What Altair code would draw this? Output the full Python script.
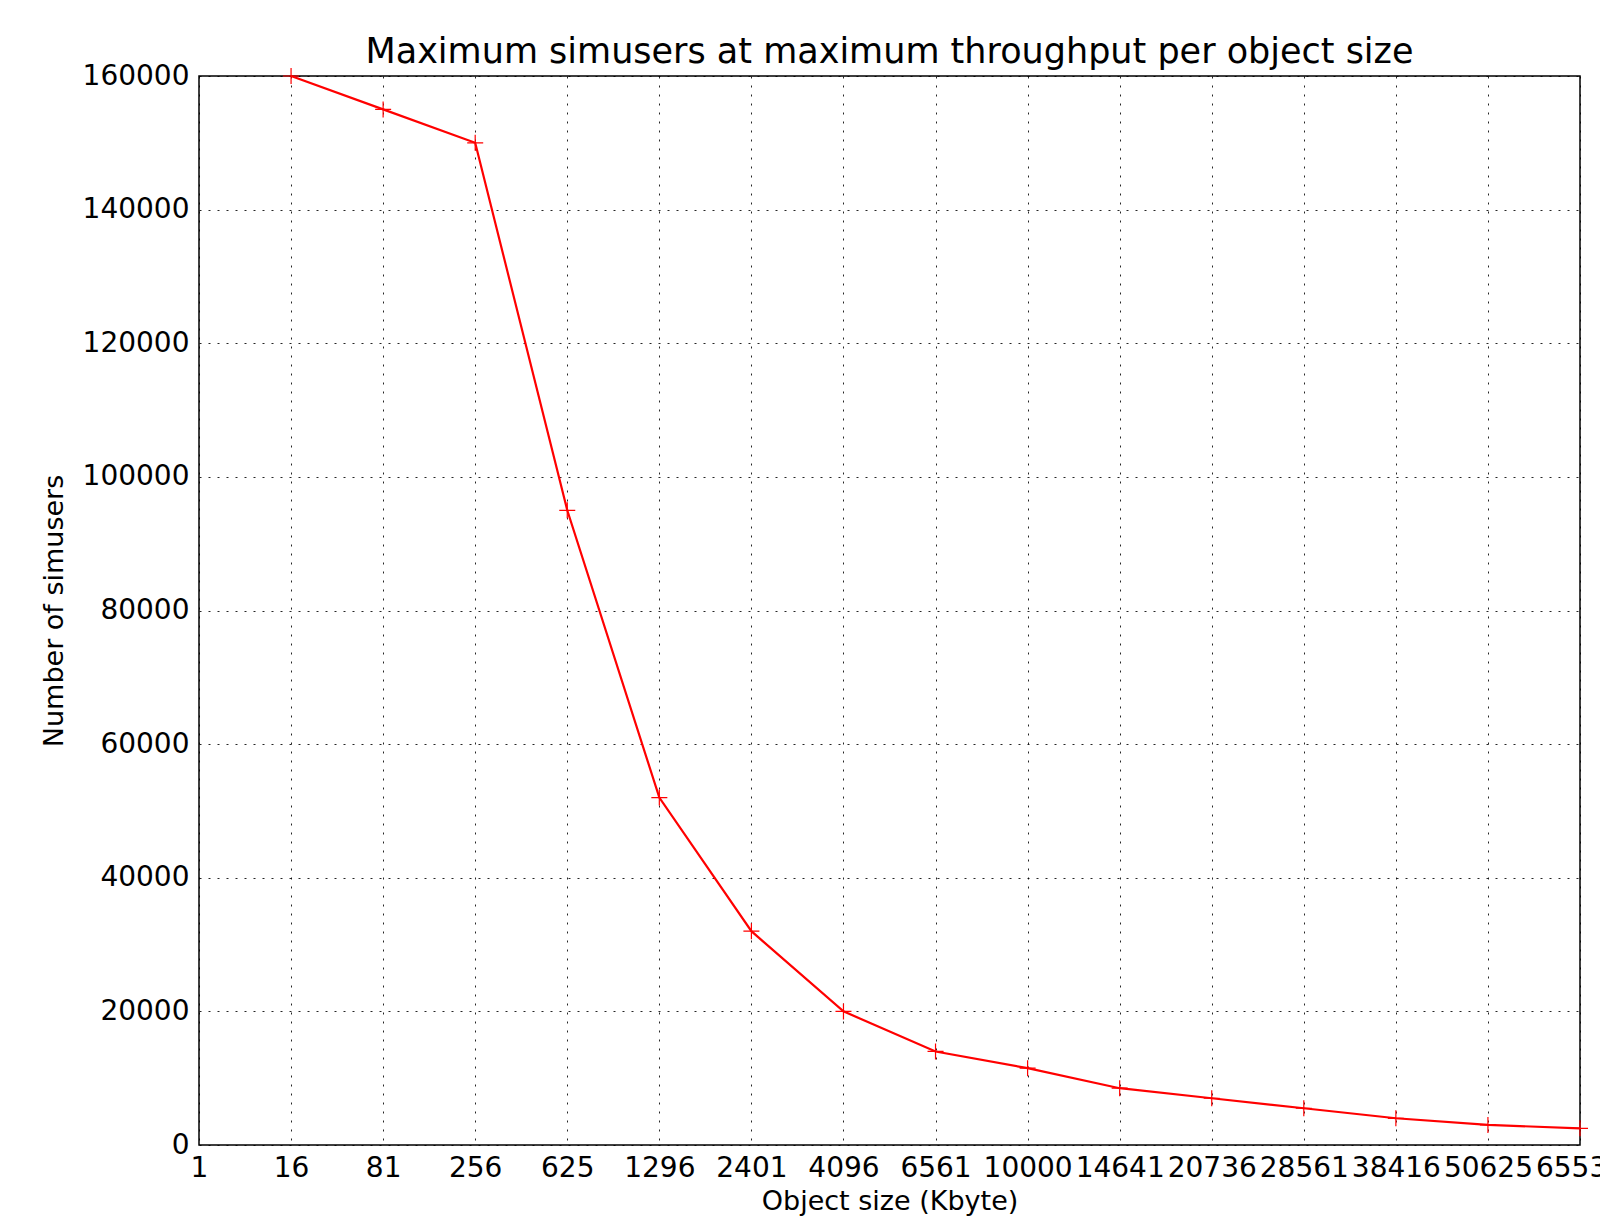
import altair as alt
import pandas as pd

size_labels = ["1", "16", "81", "256", "625", "1296", "2401", "4096", "6561",
               "10000", "14641", "20736", "28561", "38416", "50625", "65536"]
point_sizes = size_labels[1:]
simusers = [160000, 155000, 150000, 95000, 52000, 32000, 20000, 14000, 11500,
            8500, 7000, 5500, 4000, 3000, 2500]
y_ticks = [0, 20000, 40000, 60000, 80000, 100000, 120000, 140000, 160000]

df = pd.DataFrame({"size": point_sizes, "simusers": simusers})

FONT = "DejaVu Sans"

x_enc = alt.X(
    "size:O",
    scale=alt.Scale(type="point", domain=size_labels, padding=0),
    axis=alt.Axis(
        title="Object size (Kbyte)", labelAngle=0, labelOverlap=False,
        labelFlush=False, labelBound=False, grid=True, ticks=False,
        domain=False, labelPadding=9, titlePadding=6,
    ),
)
y_enc = alt.Y(
    "simusers:Q",
    scale=alt.Scale(domain=[0, 160000], nice=False, zero=True),
    axis=alt.Axis(
        title="Number of simusers", values=y_ticks, format="d", grid=True,
        ticks=False, domain=False, labelPadding=10, titlePadding=14,
    ),
)

line = alt.Chart(df).mark_line(color="#ff0000", strokeWidth=2.2).encode(x=x_enc, y=y_enc)
pts = alt.Chart(df).mark_point(
    shape="M-1,0L1,0M0,-1L0,1", filled=False, color="#ff0000",
    size=256, strokeWidth=1.2, opacity=1,
).encode(x=x_enc, y=y_enc)

chart = (
    alt.layer(line, pts)
    .properties(
        width=1381, height=1069,
        title=alt.TitleParams(
            "Maximum simusers at maximum throughput per object size",
            fontSize=35, font=FONT, fontWeight="normal", color="black",
            anchor="middle", offset=-8,
        ),
        autosize=alt.AutoSizeParams(type="none"),
        padding={"left": 191, "top": 68, "right": 20, "bottom": 80},
    )
    .configure_view(stroke="black", strokeWidth=1.5)
    .configure_axis(
        labelFont=FONT, titleFont=FONT, labelFontSize=28, titleFontSize=27,
        labelColor="black", titleColor="black", titleFontWeight="normal",
        gridColor="black", gridOpacity=0.85, gridWidth=1, gridDash=[2, 7],
    )
)

chart.save("out.html", embed_options={"renderer": "svg", "actions": False})
